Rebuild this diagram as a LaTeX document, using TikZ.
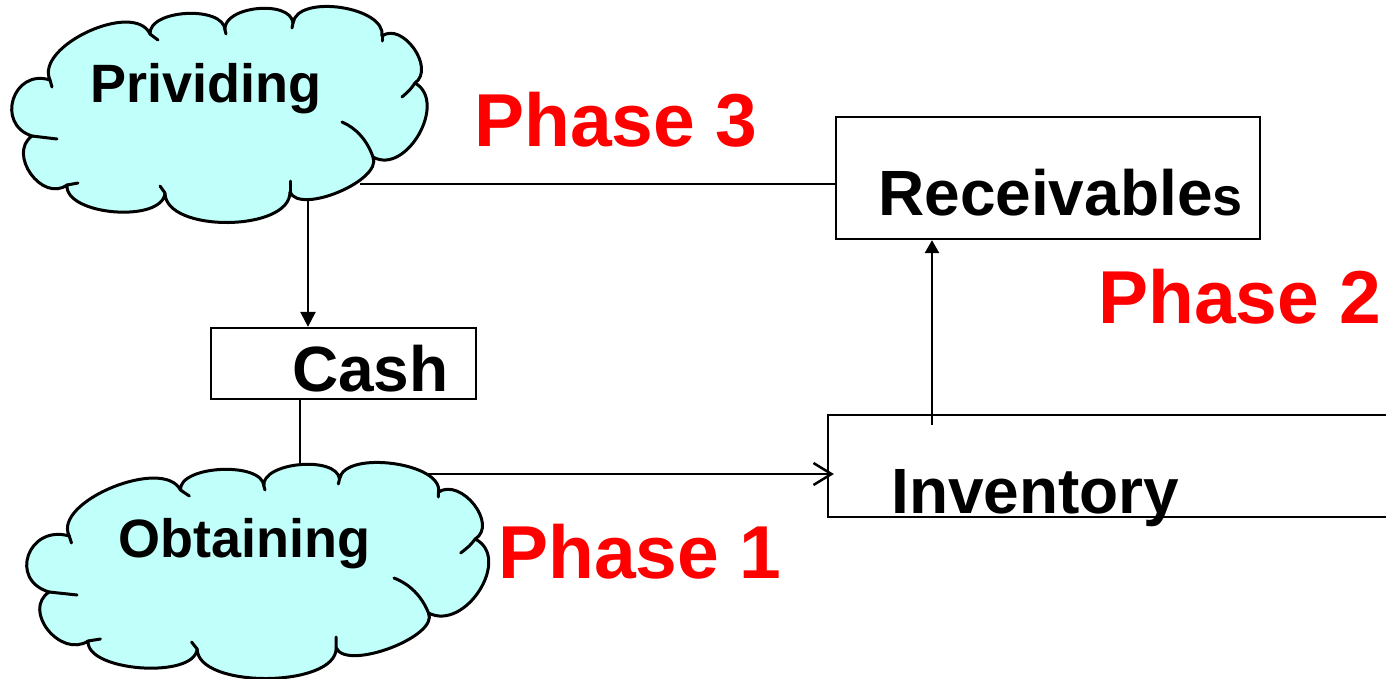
\documentclass[tikz,border=0pt]{standalone}
\usepackage{fontspec}
\setmainfont{Liberation Sans}
\usetikzlibrary{calc,arrows.meta}

\definecolor{cloudfill}{HTML}{C0FFFA}
\definecolor{phasered}{HTML}{FF0000}

% one puff of a cloud outline: a bulge from #1 to #2, height set by #3
\newcommand\puffto[3]{.. controls ($(#1)!#3!90:(#2)$) and ($(#2)!#3!-90:(#1)$) .. (#2)}

% cloud outline with its inner creases, drawn in the frame given by #1
\newcommand\cloudshape[1]{%
  \begin{scope}[#1]
    \coordinate (k1) at (32,136);
    \coordinate (k2) at (50,80);
    \coordinate (k3) at (150,34);
    \coordinate (k4) at (225,30);
    \coordinate (k5) at (293,23);
    \coordinate (k6) at (382,36);
    \coordinate (k7) at (415,83);
    \coordinate (k8) at (373,157);
    \coordinate (k9) at (290,192);
    \coordinate (k10) at (165,193);
    \coordinate (k11) at (67,185);
    \path[cloudline, fill=cloudfill] (k1)
      \puffto{k1}{k2}{0.66}
      \puffto{k2}{k3}{0.34}
      \puffto{k3}{k4}{0.33}
      \puffto{k4}{k5}{0.35}
      \puffto{k5}{k6}{0.33}
      \puffto{k6}{k7}{0.44}
      \puffto{k7}{k8}{0.45}
      \puffto{k8}{k9}{0.28}
      \puffto{k9}{k10}{0.32}
      \puffto{k10}{k11}{0.31}
      \puffto{k11}{k1}{0.51} -- cycle;
    \draw[cloudline] (k1) .. controls (44,137) .. (57,139);
    \draw[cloudline] (k2) -- (52,87);
    \draw[cloudline] (k3) -- (158,40);
    \draw[cloudline] (k4) -- (226,34);
    \draw[cloudline] (k5) -- (292,28);
    \draw[cloudline] (k6) -- (382,41);
    \draw[cloudline] (k7) .. controls (410,90) .. (402,97);
    \draw[cloudline] (k8) .. controls (367,140) and (356,128) .. (342,122);
    \draw[cloudline] (k9) -- (290,181);
    \draw[cloudline] (k10) -- (160,186);
    \draw[cloudline] (k11) -- (78,183);
  \end{scope}}

\tikzset{
  cloudline/.style={draw=black, line width=3pt, line join=round, line cap=round},
  box/.style={draw=black, line width=2.3pt, fill=white, inner sep=0pt},
  conn/.style={draw=black, line width=2.5pt},
  boxtext/.style={anchor=base west, inner sep=0pt, font=\bfseries\fontsize{64}{70}\selectfont},
  cloudtext/.style={anchor=base west, inner sep=0pt, font=\bfseries\fontsize{54}{60}\selectfont},
  phasetext/.style={anchor=base west, inner sep=0pt, text=phasered, font=\bfseries\fontsize{75}{80}\selectfont},
}

\begin{document}
\begin{tikzpicture}[x=1pt, y=-1pt]
  \path[use as bounding box] (0,0) rectangle (1386,678);
  \clip (0,0) rectangle (1386,678);
  \fill[white] (0,0) rectangle (1386,678);

  % boxes
  \node[box, minimum width=424pt, minimum height=122pt] (recv) at (1048,178) {};
  \node[box, minimum width=592pt, minimum height=102pt] (inv) at (1124,466) {};
  \node[box, minimum width=265pt, minimum height=71pt] (cash) at (343.5,363.5) {};

  % connector end points on the cloud outlines
  \coordinate (provS) at (308,196);
  \coordinate (provE) at (360,184);
  \coordinate (obtN) at (300,465);
  \coordinate (obtE) at (423,474);
  \coordinate (invUp) at (932,425);

  % connectors
  \draw[conn, -{Triangle[width=15pt,length=15pt]}] (provS) -- (provS |- cash.north);
  \draw[conn] (provE) -- (provE -| recv.west);
  \draw[conn] (obtN |- cash.south) -- (obtN);
  \draw[conn, shorten >=-7pt, -{Straight Barb[length=18pt,width=22pt]}] (obtE) -- (obtE -| inv.west);
  \draw[conn, -{Triangle[width=14pt,length=13pt]}] (invUp) -- (invUp |- recv.south);

  % clouds
  \cloudshape{}
  \cloudshape{shift={(13.66,456)}, xscale=1.112}

  % labels
  \node[cloudtext] (provlabel) at (90,102) {Prividing};
  \node[cloudtext] (obtlabel) at (118,557) {Obtaining};
  \node[boxtext] (cashlabel) at (292,391) {Cash};
  \node[boxtext] (recvlabel) at (878,215) {Receivable{\fontsize{54}{60}\selectfont s}};
  \node[boxtext] (invlabel) at (891,513) {Inventory};

  \node[phasetext] (phase3) at (474,146) {Phase 3};
  \node[phasetext] (phase2) at (1098,323) {Phase 2};
  \node[phasetext] (phase1) at (498,578) {Phase 1};
\end{tikzpicture}
\end{document}
